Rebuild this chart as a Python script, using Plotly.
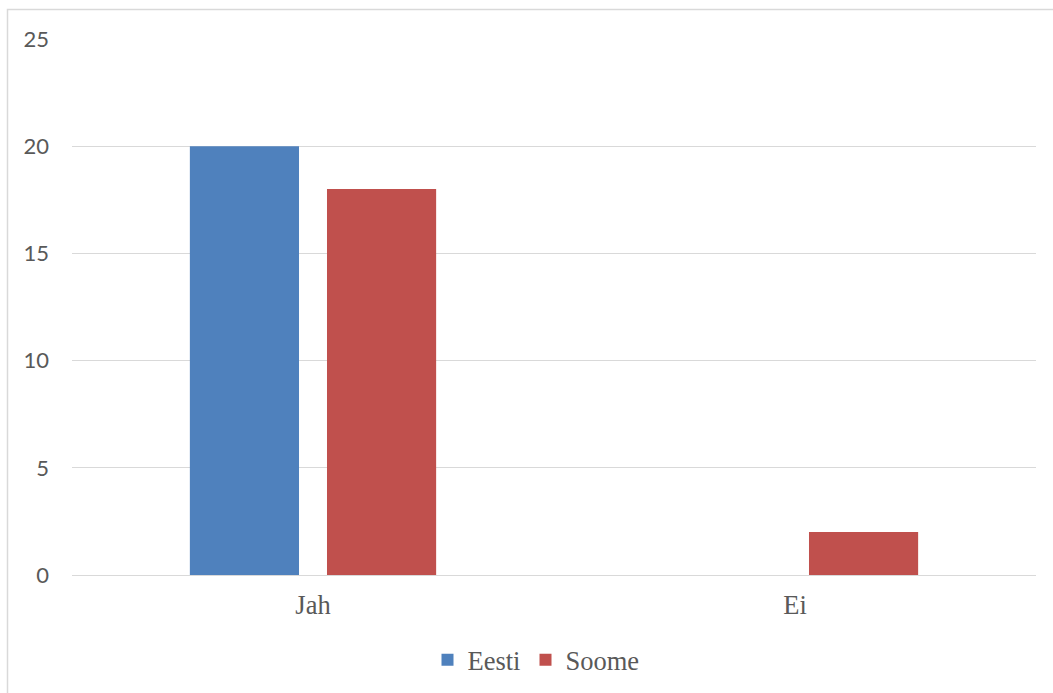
import plotly.graph_objects as go

categories = ["Jah", "Ei"]
eesti = [20, 0]
soome = [18, 2]
y_ticks = [0, 5, 10, 15, 20, 25]

W, H = 1053, 693
L, R, T, B = 72, 17, 39, 118
pw, ph = W - L - R, H - T - B

SERIF = "Liberation Serif, Times New Roman, serif"

fig = go.Figure()
fig.add_trace(go.Bar(name="Eesti", x=categories, y=eesti, marker_color="#4F81BD", marker_line_width=0))
fig.add_trace(go.Bar(name="Soome", x=categories, y=soome, marker_color="#C0504D", marker_line_width=0))

fig.update_layout(
    width=W, height=H,
    margin=dict(l=L, r=R, t=T, b=B, autoexpand=False),
    paper_bgcolor="white", plot_bgcolor="white",
    font=dict(family=SERIF, color="#595959"),
    barmode="group", bargap=0.431, bargroupgap=0.204,
    showlegend=True,
    legend=dict(orientation="h", xanchor="center", x=(536 - L) / pw,
                yanchor="top", y=(T + ph - 636) / ph,
                font=dict(family=SERIF, size=26.5, color="#595959"),
                itemwidth=30, tracegroupgap=0, traceorder="normal"),
    xaxis=dict(tickfont=dict(family=SERIF, size=26.5, color="#595959"),
               showgrid=False, showline=False, ticks="", ticklabelstandoff=11),
    yaxis=dict(range=[0, 25], tickvals=y_ticks, showgrid=True, gridcolor="#d9d9d9", gridwidth=1,
               zeroline=True, zerolinecolor="#d9d9d9", zerolinewidth=1,
               showline=False, ticks="",
               tickfont=dict(family="Lato", size=22, color="#595959"),
               ticklabelstandoff=22),
    shapes=[dict(type="rect", xref="paper", yref="paper",
                 x0=(7.5 - L) / pw, x1=(W + 5 - L) / pw,
                 y0=(T + ph - (H + 5)) / ph, y1=(T + ph - 9.5) / ph,
                 line=dict(color="#d9d9d9", width=1.5), fillcolor="rgba(0,0,0,0)", layer="below")],
)

fig.write_html("out.html")
